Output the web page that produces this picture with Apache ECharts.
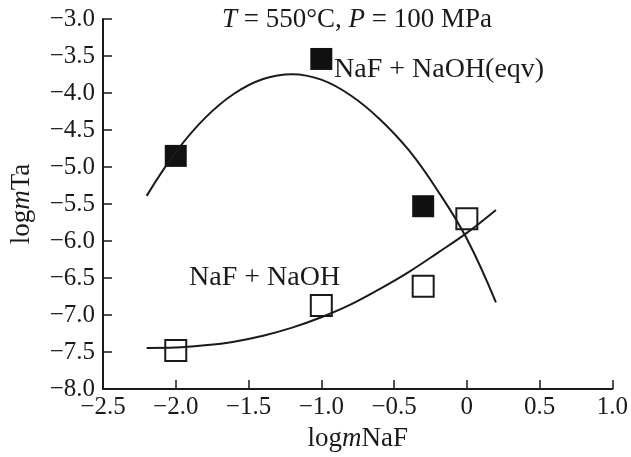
<!DOCTYPE html>
<html>
<head>
<meta charset="utf-8">
<script src="https://cdn.jsdelivr.net/npm/echarts@6/dist/echarts.min.js"></script>
<style>
  html, body { margin: 0; padding: 0; background: #fff; }
  #chart { width: 631px; height: 457px; }
</style>
</head>
<body>
<div id="chart"></div>
<script>
// 实验点：NaF + NaOH(eqv)（实心方块）
const xEqv = [-2.0, -1.0, -0.3];
const yEqv = [-4.85, -3.54, -5.53];
// 实验点：NaF + NaOH（空心方块）
const xNaOH = [-2.0, -1.0, -0.3, 0.0];
const yNaOH = [-7.48, -6.87, -6.61, -5.70];
// 拟合曲线
const curveX = [-2.2, -2.0, -1.8, -1.6, -1.4, -1.2, -1.0, -0.8, -0.6, -0.4, -0.2, 0.0, 0.2];
const curveEqv = [-5.39, -4.80, -4.34, -4.01, -3.81, -3.745, -3.82, -4.03, -4.35, -4.77, -5.32, -5.97, -6.83];
const curveNaOH = [-7.445, -7.44, -7.41, -7.36, -7.28, -7.17, -7.03, -6.86, -6.65, -6.42, -6.16, -5.89, -5.58];

const FONT = 'Liberation Serif';
const INK = '#1a1a1a';

const pairs = (xs, ys) => xs.map((x, i) => [x, ys[i]]);
const fmt = v => (v === 0 ? '0' : v.toFixed(1).replace('-', '\u2212'));

const chart = echarts.init(document.getElementById('chart'));

const axisCommon = {
  type: 'value',
  interval: 0.5,
  axisLine: { show: true, onZero: false, lineStyle: { color: INK, width: 2 } },
  axisTick: { show: true, inside: true, length: 9, lineStyle: { color: INK, width: 1.5 } },
  splitLine: { show: false },
  axisLabel: { color: INK, fontFamily: FONT, fontSize: 25, formatter: fmt },
  nameTextStyle: {
    color: INK, fontFamily: FONT, fontSize: 27,
    rich: { i: { fontFamily: FONT, fontSize: 27, fontStyle: 'italic', color: INK } }
  }
};

const option = {
  backgroundColor: '#fff',
  animation: false,
  grid: { left: 99, right: 18, top: 19, bottom: 63 },
  xAxis: Object.assign({}, axisCommon, {
    min: -2.5, max: 1.0,
    name: 'log{i|m}NaF',
    nameLocation: 'middle',
    nameGap: 36,
    axisLabel: Object.assign({}, axisCommon.axisLabel, { margin: 6 })
  }),
  yAxis: Object.assign({}, axisCommon, {
    min: -8.0, max: -3.0,
    name: 'log{i|m}Ta',
    nameLocation: 'middle',
    nameRotate: 90,
    nameGap: 68,
    axisLabel: Object.assign({}, axisCommon.axisLabel, { margin: 8 })
  }),
  series: [
    {
      type: 'scatter',
      data: pairs(xNaOH, yNaOH),
      symbol: 'rect',
      symbolSize: 21,
      itemStyle: { color: 'rgba(255,255,255,0)', borderColor: INK, borderWidth: 2, opacity: 1 },
      z: 2
    },
    {
      type: 'scatter',
      data: pairs(xEqv, yEqv),
      symbol: 'rect',
      symbolSize: 22,
      itemStyle: { color: '#111', opacity: 1 },
      z: 2
    },
    {
      type: 'line',
      data: pairs(curveX, curveEqv),
      smooth: 0.4,
      showSymbol: false,
      lineStyle: { color: INK, width: 2 },
      z: 3
    },
    {
      type: 'line',
      data: pairs(curveX, curveNaOH),
      smooth: 0.4,
      showSymbol: false,
      lineStyle: { color: INK, width: 2 },
      z: 3
    }
  ],
  graphic: [
    {
      type: 'text', left: 222, top: 6,
      style: {
        text: '{i|T} = 550°C, {i|P} = 100 MPa',
        font: '27px "Liberation Serif"', fill: INK,
        rich: { i: { fontFamily: FONT, fontSize: 27, fontStyle: 'italic', fill: INK } }
      }
    },
    {
      type: 'text', left: 334, top: 56,
      style: { text: 'NaF + NaOH(eqv)', font: '28px "Liberation Serif"', fill: INK }
    },
    {
      type: 'text', left: 189, top: 264,
      style: { text: 'NaF + NaOH', font: '28px "Liberation Serif"', fill: INK }
    }
  ]
};

chart.setOption(option);
</script>
</body>
</html>
